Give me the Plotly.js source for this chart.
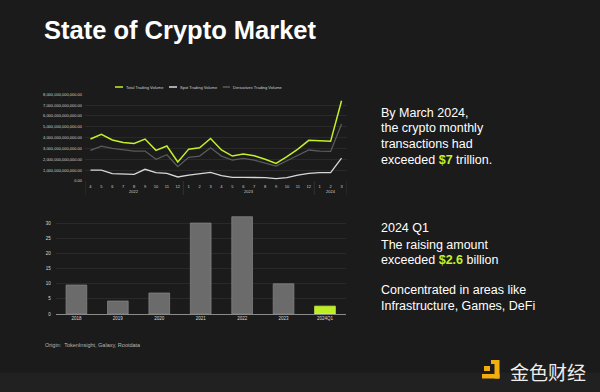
<!DOCTYPE html>
<html>
<head>
<meta charset="utf-8">
<script src="https://cdn.plot.ly/plotly-3.0.1.min.js"></script>
<style>
html,body{margin:0;padding:0;background:#1b1b1b;}
#chart{width:600px;height:392px;}
</style>
</head>
<body>
<div id="chart"></div>
<script>
// ---- Monthly trading volume (trillions USD) ----
const periodYear = ["2022","2022","2022","2022","2022","2022","2022","2022","2022",
  "2023","2023","2023","2023","2023","2023","2023","2023","2023","2023","2023","2023",
  "2024","2024","2024"];
const periodMonth = ["4","5","6","7","8","9","10","11","12",
  "1","2","3","4","5","6","7","8","9","10","11","12",
  "1","2","3"];
const totalVolume = [3.87,4.30,3.78,3.56,3.47,3.87,2.83,3.23,1.75,
  2.94,3.07,3.93,2.86,2.30,2.49,2.33,2.00,1.63,2.24,2.95,3.75,
  3.69,3.66,7.40];
const spotVolume = [1.01,1.01,0.68,0.65,0.62,1.08,0.77,0.70,0.37,
  0.55,0.67,0.80,0.49,0.34,0.34,0.34,0.31,0.22,0.31,0.55,0.71,
  0.77,0.77,2.12];
const derivativesVolume = [2.83,3.22,3.01,2.86,2.76,2.76,2.00,2.42,1.32,
  2.18,2.30,3.07,2.30,1.93,2.09,1.93,1.69,1.38,1.87,2.37,2.86,
  2.76,2.73,5.25];
const seriesNames = ["Total Trading Volume","Spot Trading Volume","Derivatives Trading Volume"];
const volumeTicks = [0,1,2,3,4,5,6,7,8];

// ---- Funding raised (billions USD) ----
const fundingYears = ["2018","2019","2020","2021","2022","2023","2024Q1"];
const fundingAmount = [9.6,4.3,6.95,30.1,32.2,10.0,2.6];
const fundingTicks = [0,5,10,15,20,25,30];

const T = 1e12;
const LIME = "#c3f02c";
const FONT = "Liberation Sans, Arial, Helvetica, sans-serif";
const periodKey = periodYear.map((y,i)=>y+"-"+periodMonth[i]);

const traces = [
  {type:"scatter", mode:"lines", name:seriesNames[2], x:periodKey, y:derivativesVolume.map(v=>v*T),
   line:{color:"#5b5b5b", width:1.3}, xaxis:"x", yaxis:"y", hoverinfo:"skip"},
  {type:"scatter", mode:"lines", name:seriesNames[1], x:periodKey, y:spotVolume.map(v=>v*T),
   line:{color:"#d8d8d8", width:1.3}, xaxis:"x", yaxis:"y", hoverinfo:"skip"},
  {type:"scatter", mode:"lines", name:seriesNames[0], x:periodKey, y:totalVolume.map(v=>v*T),
   line:{color:LIME, width:1.5}, xaxis:"x", yaxis:"y", hoverinfo:"skip"},
  {type:"bar", x:fundingYears, y:fundingAmount, xaxis:"x2", yaxis:"y2",
   marker:{color:fundingYears.map(c=>c==="2024Q1"?"#bdee22":"#6b6b6b"),
           line:{color:fundingYears.map(c=>c==="2024Q1"?"#d4ff50":"#8a8a8a"), width:0.7}},
   hoverinfo:"skip"}
];

const px = v => v/600, py = v => (392-v)/392;

// custom small legend
const legendSpec = [
  {name:seriesNames[0], color:LIME, x0:115, x1:123, tx:124.3},
  {name:seriesNames[1], color:"#d8d8d8", x0:169, x1:177, tx:177.7},
  {name:seriesNames[2], color:"#5b5b5b", x0:222.7, x1:230, tx:231}
];

const shapes = [
  {type:"rect", xref:"paper", yref:"paper", x0:0, x1:1, y0:0, y1:py(372.5), fillcolor:"#212121", line:{width:0}, layer:"below"},
  // logo icon
  {type:"rect", xref:"paper", yref:"paper", x0:px(484), x1:px(490), y0:py(371), y1:py(366), fillcolor:"#f2ae0f", line:{width:0}},
  {type:"rect", xref:"paper", yref:"paper", x0:px(494.5), x1:px(499.5), y0:py(378.5), y1:py(360), fillcolor:"#f2ae0f", line:{width:0}},
  {type:"rect", xref:"paper", yref:"paper", x0:px(491), x1:px(495), y0:py(364), y1:py(360), fillcolor:"#f2ae0f", line:{width:0}},
  {type:"rect", xref:"paper", yref:"paper", x0:px(482), x1:px(499.5), y0:py(378.5), y1:py(374), fillcolor:"#f2ae0f", line:{width:0}}
];
legendSpec.forEach(l=>{
  shapes.push({type:"line", xref:"paper", yref:"paper", x0:px(l.x0), x1:px(l.x1), y0:py(87), y1:py(87), line:{color:l.color, width:1.5}});
});

const ann = (text, x, y, size, color, extra) => Object.assign({
  text, x:px(x), y:py(y), xref:"paper", yref:"paper", xanchor:"left", yanchor:"middle",
  showarrow:false, font:{family:FONT, size, color}}, extra||{});

const annotations = [
  ann("<b>State of Crypto Market</b>", 42, 30, 25.5, "#ffffff"),
  ann("By March 2024,", 378.5, 112.7, 12.5, "#ffffff"),
  ann("the crypto monthly", 378.5, 128.3, 12.5, "#ffffff"),
  ann("transactions had", 378.5, 144, 12.5, "#ffffff"),
  ann("exceeded <b><span style='color:"+LIME+"'>$7</span></b> trillion.", 378.5, 159.7, 12.5, "#ffffff"),
  ann("2024 Q1", 378.5, 228, 12.5, "#ffffff"),
  ann("The raising amount", 378.5, 244.5, 12.5, "#ffffff"),
  ann("exceeded <b><span style='color:"+LIME+"'>$2.6</span></b> billion", 378.5, 259.7, 12.5, "#ffffff"),
  ann("Concentrated in areas like", 378.5, 290.3, 12.5, "#ffffff"),
  ann("Infrastructure, Games, DeFi", 378.5, 305.7, 12.5, "#ffffff"),
  ann("Origin:  TokenInsight, Galaxy, Rootdata", 42.5, 344.7, 5.5, "#b5b5b5"),
  ann("金色财经", 508, 371, 19, "#eeeeee", {font:{family:"Noto Sans CJK SC", size:19, color:"#eeeeee"}})
];
legendSpec.forEach(l=>annotations.push(ann(l.name, l.tx, 87, 4, "#cfcfcf")));

// year group labels and dividers under the month axis
const years = [...new Set(periodYear)];
years.forEach(yr=>{
  const first = periodYear.indexOf(yr), last = periodYear.lastIndexOf(yr);
  annotations.push({text:yr, x:(first+last)/2, xref:"x", y:py(191), yref:"paper",
    xanchor:"center", yanchor:"middle", showarrow:false, font:{family:FONT, size:4, color:"#cfcfcf"}});
  shapes.push({type:"line", xref:"x", yref:"paper", x0:first-0.5, x1:first-0.5, y0:py(181), y1:py(195),
    line:{color:"#444", width:0.6}});
  if (yr===years[years.length-1]) shapes.push({type:"line", xref:"x", yref:"paper", x0:last+0.5, x1:last+0.5,
    y0:py(181), y1:py(195), line:{color:"#444", width:0.6}});
});

const layout = {
  width:600, height:392,
  margin:{l:0,r:0,t:0,b:0},
  paper_bgcolor:"#1b1b1b", plot_bgcolor:"rgba(0,0,0,0)",
  showlegend:false,
  font:{family:FONT, color:"#cfcfcf"},
  xaxis:{domain:[px(85), px(347)], anchor:"y", type:"category",
    tickvals:periodKey, ticktext:periodMonth, range:[-0.5, periodKey.length-0.5],
    tickfont:{size:4, color:"#cfcfcf"}, showgrid:false, zeroline:false, showline:false,
    ticks:"", ticklabelstandoff:2},
  yaxis:{domain:[py(181), py(94.3)], anchor:"x", range:[0, 8*T],
    tickvals:volumeTicks.map(v=>v*T), tickformat:",.2f",
    tickfont:{size:4, color:"#cfcfcf"}, gridcolor:"#333333", gridwidth:0.6,
    zeroline:false, showline:false, ticklabelstandoff:2},
  xaxis2:{domain:[px(55.7), px(345.7)], anchor:"y2", type:"category",
    tickfont:{size:4.5, color:"#dddddd"}, showgrid:false, zeroline:false,
    showline:true, linecolor:"#8a8a8a", linewidth:1, ticks:""},
  yaxis2:{domain:[py(314), py(214.3)], anchor:"x2", range:[0,33],
    tickvals:fundingTicks, tickfont:{size:4.5, color:"#dddddd"},
    gridcolor:"#333333", gridwidth:0.6, zeroline:false, showline:false, ticklabelstandoff:4},
  bargap:0.5,
  shapes, annotations
};

Plotly.newPlot("chart", traces, layout, {staticPlot:true, displayModeBar:false});
</script>
</body>
</html>
